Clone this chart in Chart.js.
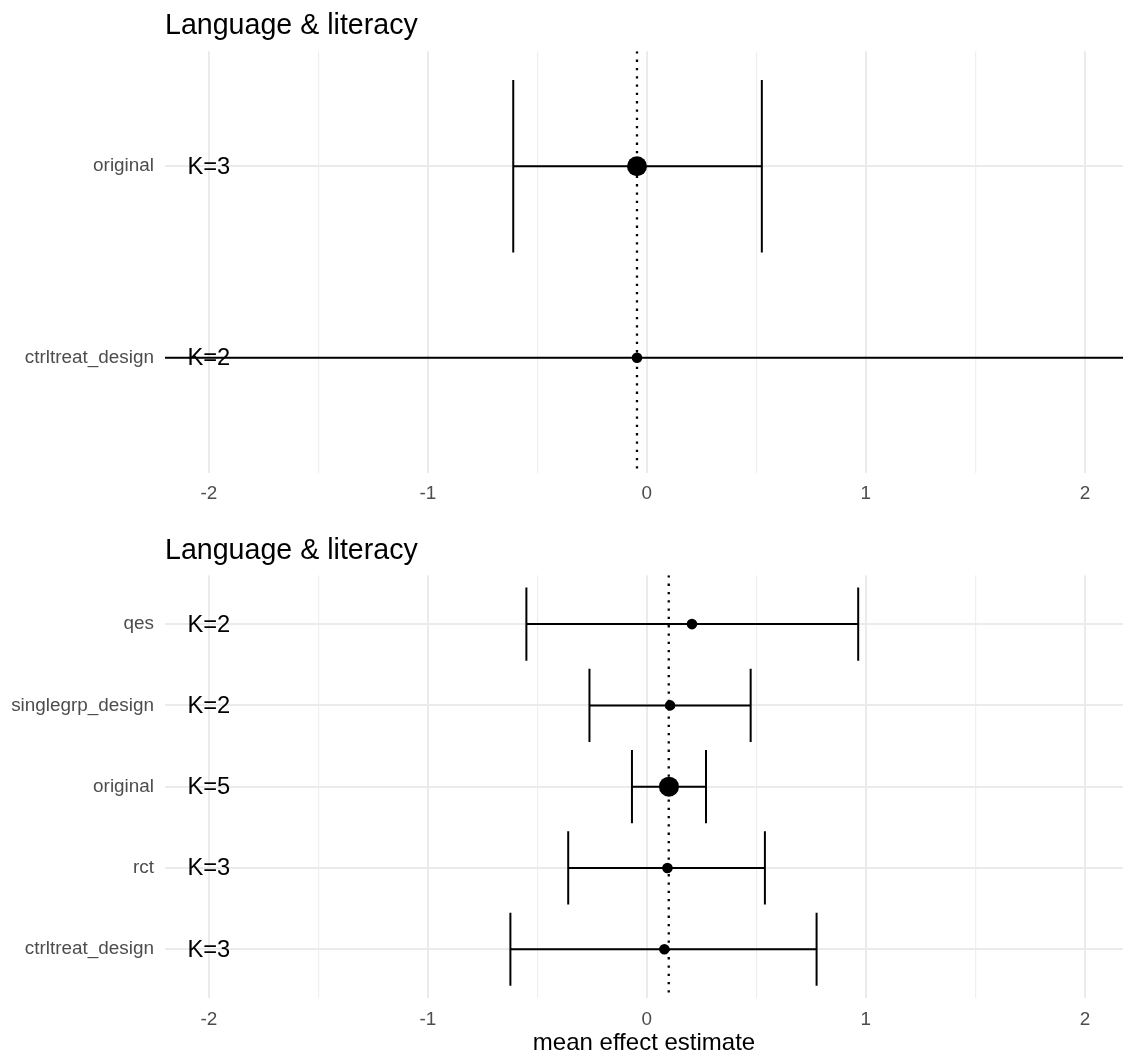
<!DOCTYPE html>
<html>
<head>
<meta charset="utf-8">
<script src="https://cdn.jsdelivr.net/npm/chart.js@4.4.1/dist/chart.umd.min.js"></script>
<style>
  html, body { margin: 0; padding: 0; background: #fff; overflow: hidden; }
  .panel { position: relative; width: 1123px; }
  #topPanel { height: 520px; }
  #bottomPanel { height: 534px; }
</style>
</head>
<body>
<div class="panel" id="topPanel"><canvas id="topChart"></canvas></div>
<div class="panel" id="bottomPanel"><canvas id="bottomChart"></canvas></div>
<script>
const panelTitle = 'Language & literacy';
const axisTitle = 'mean effect estimate';
const xTicks = [-2, -1.5, -1, -0.5, 0, 0.5, 1, 1.5, 2];

// top panel (listed bottom to top)
const topCategories = ['ctrltreat_design', 'original'];
const topEstimates = [-0.045, -0.045];
const topLower = [-3.6, -0.61];
const topUpper = [3.6, 0.525];
const topK = [2, 3];
const topRef = -0.045;

// bottom panel (listed bottom to top)
const bottomCategories = ['ctrltreat_design', 'rct', 'original', 'singlegrp_design', 'qes'];
const bottomEstimates = [0.08, 0.094, 0.101, 0.106, 0.206];
const bottomLower = [-0.623, -0.359, -0.068, -0.262, -0.55];
const bottomUpper = [0.775, 0.539, 0.27, 0.474, 0.965];
const bottomK = [3, 3, 5, 2, 2];
const bottomRef = 0.1;

const family = '"Liberation Sans", Arial, Helvetica, sans-serif';

// error bars, dotted reference line and K= labels
function forestPlugin(lower, upper, kVals, ref) {
  return {
    id: 'forest',
    beforeDatasetsDraw(chart) {
      const { ctx, chartArea: a, scales: { x, y } } = chart;
      ctx.save();
      ctx.beginPath();
      ctx.rect(a.left, a.top, a.right - a.left, a.bottom - a.top);
      ctx.clip();
      const rx = x.getPixelForValue(ref);
      ctx.strokeStyle = '#000';
      ctx.lineWidth = 2.3;
      ctx.setLineDash([2.3, 6]);
      ctx.beginPath();
      ctx.moveTo(rx, a.top);
      ctx.lineTo(rx, a.bottom);
      ctx.stroke();
      ctx.setLineDash([]);
      ctx.lineWidth = 2;
      lower.forEach((lo, i) => {
        const py = y.getPixelForValue(i);
        const c0 = y.getPixelForValue(i + 0.45);
        const c1 = y.getPixelForValue(i - 0.45);
        const x0 = x.getPixelForValue(lo);
        const x1 = x.getPixelForValue(upper[i]);
        ctx.beginPath();
        ctx.moveTo(x0, py); ctx.lineTo(x1, py);
        ctx.moveTo(x0, c0); ctx.lineTo(x0, c1);
        ctx.moveTo(x1, c0); ctx.lineTo(x1, c1);
        ctx.stroke();
      });
      ctx.restore();
    },
    afterDatasetsDraw(chart) {
      const { ctx, scales: { x, y } } = chart;
      ctx.save();
      ctx.fillStyle = '#000';
      ctx.font = '23.7px ' + family;
      ctx.textAlign = 'center';
      ctx.textBaseline = 'middle';
      kVals.forEach((k, i) => {
        ctx.fillText('K=' + k, x.getPixelForValue(-2), y.getPixelForValue(i) + 1);
      });
      ctx.restore();
    }
  };
}

function buildPanel(id, cats, est, lower, upper, kVals, ref, layout) {
  new Chart(document.getElementById(id).getContext('2d'), {
    type: 'scatter',
    data: {
      datasets: [{
        data: cats.map((c, i) => ({ x: est[i], y: i })),
        pointRadius: cats.map(c => c === 'original' ? 10 : 5.3),
        pointHoverRadius: cats.map(c => c === 'original' ? 10 : 5.3),
        backgroundColor: '#000',
        borderWidth: 0
      }]
    },
    options: {
      responsive: true,
      maintainAspectRatio: false,
      animation: false,
      events: [],
      layout: { padding: 0, autoPadding: false },
      scales: {
        x: {
          type: 'linear',
          min: -2.2,
          max: 2.174,
          afterBuildTicks: s => { s.ticks = xTicks.map(v => ({ value: v })); },
          afterFit: s => {
            s.height = layout.xHeight;
            s.paddingLeft = 0;
            s.paddingRight = 0;
          },
          ticks: {
            autoSkip: false,
            maxRotation: 0,
            padding: layout.tickPad,
            color: '#4d4d4d',
            font: { family, size: 18.9 },
            callback: v => Number.isInteger(v) ? String(v) : ''
          },
          grid: {
            drawTicks: false,
            color: c => Number.isInteger(c.tick.value) ? '#ebebeb' : '#efefef',
            lineWidth: c => Number.isInteger(c.tick.value) ? 2 : 1.2
          },
          border: { display: false },
          title: {
            display: layout.showAxisTitle,
            text: axisTitle,
            color: '#000',
            font: { family, size: 24, lineHeight: 0.92 },
            padding: { top: 0, bottom: 0 }
          }
        },
        y: {
          type: 'linear',
          min: -0.6,
          max: cats.length - 0.4,
          afterBuildTicks: s => { s.ticks = cats.map((c, i) => ({ value: i })); },
          afterFit: s => {
            s.width = 165;
            s.paddingTop = 0;
            s.paddingBottom = 0;
          },
          ticks: {
            padding: 11,
            color: '#4d4d4d',
            font: { family, size: 18.9 },
            callback: v => cats[v]
          },
          grid: { drawTicks: false, color: '#ebebeb', lineWidth: 2 },
          border: { display: false }
        }
      },
      plugins: {
        legend: { display: false },
        tooltip: { enabled: false },
        title: {
          display: true,
          text: panelTitle,
          align: 'start',
          fullSize: false,
          color: '#000',
          font: { family, size: 28.6, weight: 'normal', lineHeight: 1.2 },
          padding: { top: layout.titleTop, bottom: layout.titleBottom }
        }
      }
    },
    plugins: [forestPlugin(lower, upper, kVals, ref)]
  });
}

buildPanel('topChart', topCategories, topEstimates, topLower, topUpper, topK, topRef,
  { xHeight: 47.3, tickPad: 9.8, showAxisTitle: false, titleTop: 9, titleBottom: 8 });
buildPanel('bottomChart', bottomCategories, bottomEstimates, bottomLower, bottomUpper, bottomK, bottomRef,
  { xHeight: 56, tickPad: 10.3, showAxisTitle: true, titleTop: 14, titleBottom: 7 });
</script>
</body>
</html>
